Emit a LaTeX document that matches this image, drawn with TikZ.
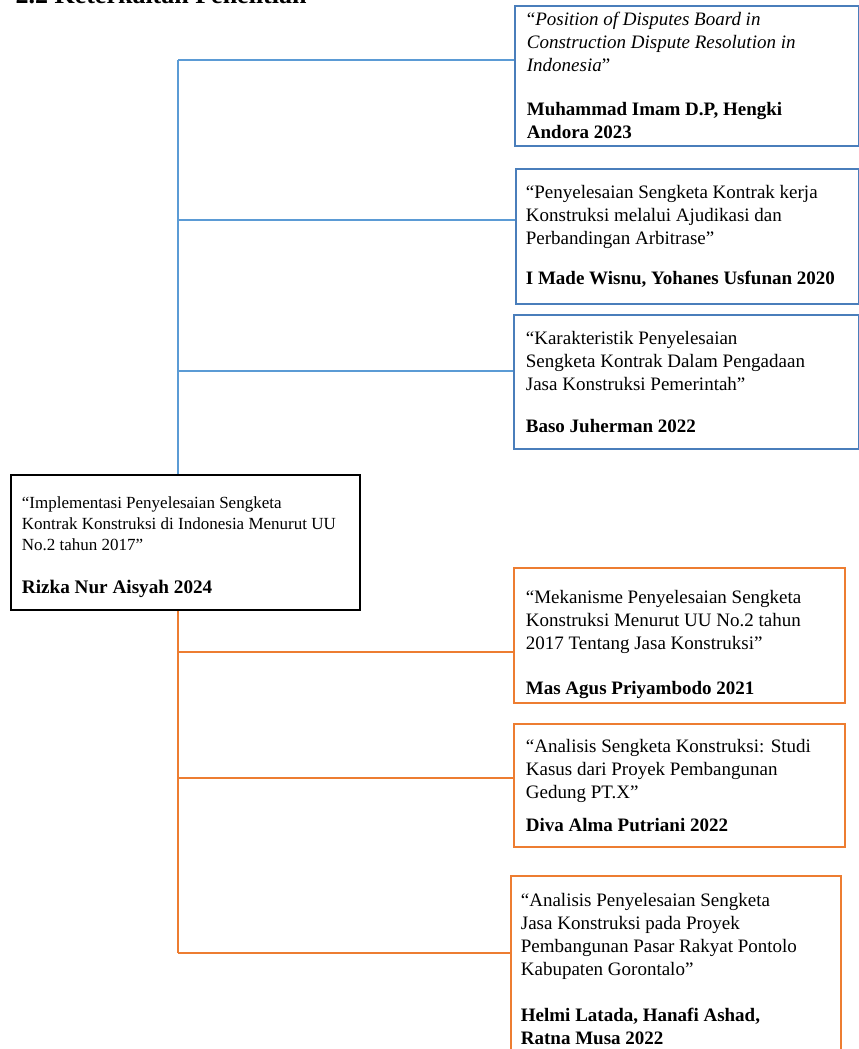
\documentclass[tikz,border=0pt]{standalone}
\usepackage{fontspec}
\setmainfont{Liberation Serif}
\usepackage{tikz}
\usetikzlibrary{positioning}
\definecolor{boxblue}{HTML}{4A7EBB}
\definecolor{lineblue}{HTML}{5B9BD5}
\definecolor{boxorange}{HTML}{ED7D31}
\tikzset{
  refbox/.style={draw, line width=1.8pt, anchor=north west, align=flush left,
    inner xsep=12pt, inner ysep=6pt, font=\fontsize{19}{23}\selectfont},
  bluebox/.style={refbox, draw=boxblue},
  orangebox/.style={refbox, draw=boxorange},
  mainbox/.style={refbox, draw=black, inner xsep=11pt, font=\fontsize{17}{21}\selectfont},
  blueline/.style={draw=lineblue, line width=2pt},
  orangeline/.style={draw=boxorange, line width=2pt},
}

\begin{document}
\begin{tikzpicture}[x=1pt, y=-1pt]
      \useasboundingbox (0,0) rectangle (859,1049);
      \clip (0,0) rectangle (859,1049);

      \node[anchor=base west, font=\bfseries\fontsize{26}{30}\selectfont] (head) at (12,4) {2.2 Keterkaitan Penelitian};

      \node[mainbox, text width=327pt, minimum height=135pt] (m) at (10,474)
        {\rule{0pt}{22pt}“Implementasi Penyelesaian Sengketa\\ Kontrak Konstruksi di Indonesia Menurut UU\\ No.2 tahun 2017”\\[22pt]
         {\bfseries\fontsize{19.2}{23}\selectfont Rizka Nur Aisyah 2024}};

      \node[bluebox, text width=320pt, minimum height=140pt] (b1) at (514,5)
        {“{\itshape Position of Disputes Board in\\ Construction Dispute Resolution in\\ Indonesia}”\\[21pt]
         \textbf{Muhammad Imam D.P, Hengki}\\ \textbf{Andora 2023}};
      \node[bluebox, inner xsep=10pt, text width=323pt, minimum height=135pt] (b2) at (515,168)
        {“Penyelesaian Sengketa Kontrak kerja\\ Konstruksi melalui Ajudikasi dan\\ Perbandingan Arbitrase”\\[17pt]
         \textbf{I Made Wisnu, Yohanes Usfunan 2020}};
      \node[bluebox, text width=321pt, minimum height=134pt] (b3) at (513,314)
        {“Karakteristik Penyelesaian\\ Sengketa Kontrak Dalam Pengadaan\\ Jasa Konstruksi Pemerintah”\\[19pt]
         \textbf{Baso Juherman 2022}};

      \node[orangebox, inner ysep=2pt, text width=307pt, minimum height=135pt] (o1) at (513,567)
        {\rule{0pt}{31pt}“Mekanisme Penyelesaian Sengketa\\ Konstruksi Menurut UU No.2 tahun\\ 2017 Tentang Jasa Konstruksi”\\[22pt]
         \textbf{Mas Agus Priyambodo 2021}};
      \node[orangebox, text width=307pt, minimum height=123pt] (o2) at (513,723)
        {“Analisis Sengketa Konstruksi: Studi\\ Kasus dari Proyek Pembangunan\\ Gedung PT.X”\\[10pt]
         \textbf{Diva Alma Putriani 2022}};
      \node[orangebox, inner xsep=10pt, text width=310pt, minimum height=186pt] (o3) at (510,875)
        {“Analisis Penyelesaian Sengketa\\ Jasa Konstruksi pada Proyek\\ Pembangunan Pasar Rakyat Pontolo\\ Kabupaten Gorontalo”\\[23pt]
         \textbf{Helmi Latada, Hanafi Ashad,}\\ \textbf{Ratna Musa 2022}};

      % blue trunk up from the main box
      \coordinate (t1) at (178,60);
      \coordinate (t2) at (178,220);
      \coordinate (t3) at (178,371);
      \draw[blueline] (t1) -- (t1 |- m.north);
      \draw[blueline] (t1) -- (t1 -| b1.west);
      \draw[blueline] (t2) -- (t2 -| b2.west);
      \draw[blueline] (t3) -- (t3 -| b3.west);

      % orange trunk down from the main box
      \coordinate (s1) at (178,652);
      \coordinate (s2) at (178,778);
      \coordinate (s3) at (178,953);
      \draw[orangeline] (m.south -| s3) -- (s3);
      \draw[orangeline] (s1) -- (s1 -| o1.west);
      \draw[orangeline] (s2) -- (s2 -| o2.west);
      \draw[orangeline] (s3) -- (s3 -| o3.west);
\end{tikzpicture}
\end{document}
